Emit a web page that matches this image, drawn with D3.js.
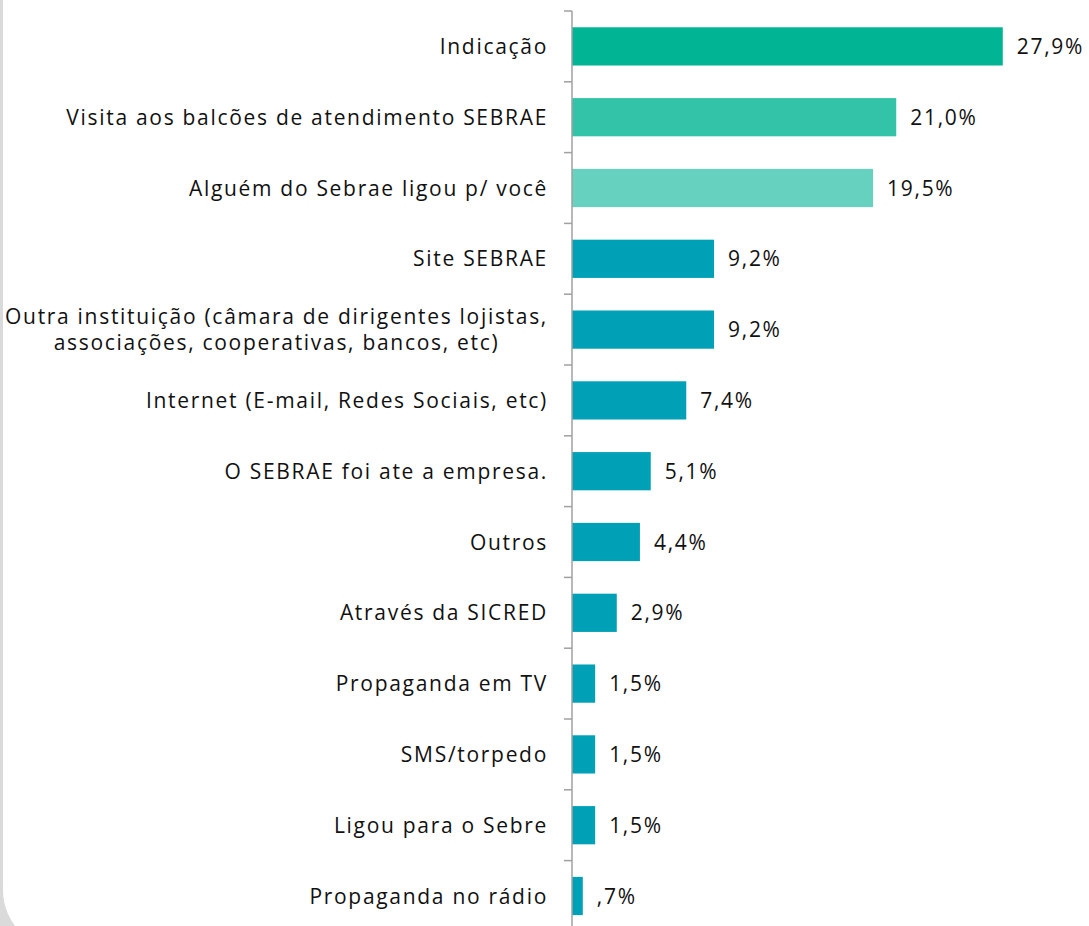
<!DOCTYPE html>
<html>
<head>
<meta charset="utf-8">
<script src="https://cdn.jsdelivr.net/npm/d3@7"></script>
<style>
  html, body { margin: 0; padding: 0; background: #fff; }
  svg { display: block; }
  text { font-family: "Open Sans", sans-serif; fill: #111; }
</style>
</head>
<body>
<div id="chart"></div>
<script>
const categories = [
  'Indicação',
  'Visita aos balcões de atendimento SEBRAE',
  'Alguém do Sebrae ligou p/ você',
  'Site SEBRAE',
  'Outra instituição (câmara de dirigentes lojistas,|associações, cooperativas, bancos, etc)',
  'Internet (E-mail, Redes Sociais, etc)',
  'O SEBRAE foi ate a empresa.',
  'Outros',
  'Através da SICRED',
  'Propaganda em TV',
  'SMS/torpedo',
  'Ligou para o Sebre',
  'Propaganda no rádio'
];
const values = [27.9, 21.0, 19.5, 9.2, 9.2, 7.4, 5.1, 4.4, 2.9, 1.5, 1.5, 1.5, 0.7];
const barColors = ['#00b494', '#33c3a9', '#66d1bf', '#00a0b6', '#00a0b6', '#00a0b6',
  '#00a0b6', '#00a0b6', '#00a0b6', '#00a0b6', '#00a0b6', '#00a0b6', '#00a0b6'];

const width = 1089, height = 926;
const axisX = 572;
const labelRight = 548;

const svg = d3.select('#chart').append('svg')
  .attr('width', width)
  .attr('height', height);

// grey page edge + white panel with a rounded lower-left corner
svg.append('rect').attr('width', width).attr('height', height).attr('fill', '#dadada');
svg.append('rect')
  .attr('x', 3).attr('y', -80)
  .attr('width', width + 100).attr('height', height + 104)
  .attr('rx', 60).attr('ry', 60)
  .attr('fill', '#fff');

const y = d3.scaleBand()
  .domain(categories)
  .range([11, 11 + categories.length * 70.8]);

const x = d3.scaleLinear()
  .domain([0, 28])
  .range([axisX, axisX + 28 * 15.44]);

const barH = y.bandwidth() * 0.54;
const barOff = (y.bandwidth() - barH) / 2;

const fmt = d3.formatLocale({ decimal: ',', thousands: '.', grouping: [3], currency: ['R$', ''] }).format('.1f');
const pct = v => fmt(v).replace(/^0/, '') + '%';

// bars
svg.append('g').selectAll('rect')
  .data(categories)
  .join('rect')
  .attr('x', x(0))
  .attr('y', d => y(d) + barOff)
  .attr('width', (d, i) => x(values[i]) - x(0))
  .attr('height', barH)
  .attr('fill', (d, i) => barColors[i]);

// axis line and ticks at band boundaries
const axisG = svg.append('g').attr('stroke', '#a0a0a0').attr('stroke-width', 1.5);
axisG.append('line')
  .attr('x1', axisX).attr('x2', axisX)
  .attr('y1', y.range()[0]).attr('y2', y.range()[1]);
axisG.selectAll('line.tick')
  .data(categories.map(c => y(c)).concat([y.range()[1]]))
  .join('line')
  .attr('class', 'tick')
  .attr('x1', axisX - 8).attr('x2', axisX)
  .attr('y1', d => d).attr('y2', d => d);

// category labels (multi-line ones are centred on their longest line)
const labels = svg.append('g').selectAll('text')
  .data(categories)
  .join('text')
  .attr('text-anchor', 'end')
  .attr('font-size', 21)
  .attr('letter-spacing', 1.7)
  .attr('y', d => y(d) + y.bandwidth() / 2);

labels.each(function (d) {
  const lines = d.split('|');
  const t = d3.select(this);
  const spans = lines.map((line, i) => t.append('tspan')
    .attr('x', labelRight)
    .attr('dy', i === 0 ? ((-(lines.length - 1) * 26) / 2 + 7.5) : 26)
    .text(line));
  if (lines.length > 1) {
    const w = d3.max(spans, s => s.node().getComputedTextLength());
    t.attr('text-anchor', 'middle');
    spans.forEach(s => s.attr('x', labelRight - w / 2));
  }
});

// value labels
svg.append('g').selectAll('text')
  .data(categories)
  .join('text')
  .attr('font-size', 21)
  .attr('letter-spacing', 1.7)
  .attr('x', (d, i) => x(values[i]) + 14)
  .attr('y', d => y(d) + y.bandwidth() / 2 + 7.5)
  .text((d, i) => pct(values[i]));
</script>
</body>
</html>
